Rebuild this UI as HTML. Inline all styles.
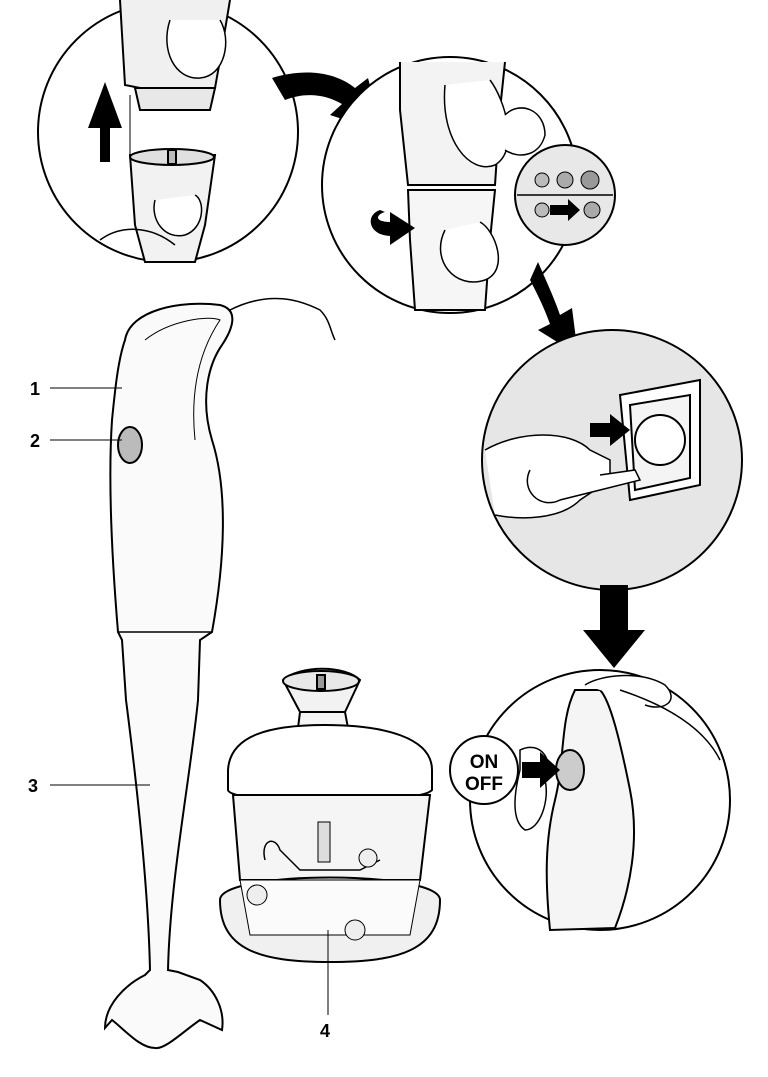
<!DOCTYPE html>
<html><head><meta charset="utf-8"><style>
html,body{margin:0;padding:0;background:#fff;}
svg{display:block;}
text{font-family:"Liberation Sans",sans-serif;font-weight:bold;}
</style></head><body>
<svg width="768" height="1077" viewBox="0 0 768 1077" xmlns="http://www.w3.org/2000/svg">
<g stroke="#000" stroke-width="2" fill="#fff">
<circle cx="168" cy="132" r="130"/>
<path d="M120 0 L125 85 L140 88 L215 88 L220 60 L230 0" fill="#f0f0f0"/>
<path d="M135 88 L215 88 L210 110 L140 110 Z" fill="#e8e8e8"/>
<path d="M130 155 L215 155 L205 225 L195 262 L145 262 L135 225 Z" fill="#f2f2f2"/>
<ellipse cx="172" cy="157" rx="42" ry="8" fill="#e0e0e0"/>
<rect x="168" y="150" width="8" height="14" fill="#bbb"/>
<path d="M170 20 C160 50 175 80 200 78 C225 76 232 40 220 20" fill="#fff" stroke-width="1.5"/>
<path d="M155 200 C150 220 165 240 185 235 C205 228 205 200 195 195" fill="#fff" stroke-width="1.5"/>
<path d="M100 240 C120 225 150 225 175 245" fill="none" stroke-width="1.5"/>
<path d="M100 162 L110 162 L110 128 L122 128 L105 82 L88 128 L100 128 Z" fill="#000" stroke="none"/>
<line x1="130" y1="95" x2="130" y2="160" stroke-width="1"/>
<path d="M272 78 C305 68 335 72 355 88 L368 78 L382 132 L330 115 L342 104 C325 94 305 92 285 100 Z" fill="#000" stroke="none"/>
<circle cx="450" cy="185" r="128"/>
<path d="M400 62 L400 110 L408 185 L495 185 L500 110 L505 62" fill="#f3f3f3"/>
<path d="M408 190 L495 190 L490 240 L485 310 L415 310 L410 240 Z" fill="#f6f6f6"/>
<path d="M445 85 C440 140 470 175 495 165 C520 150 505 100 490 80" fill="#fff" stroke-width="1.5"/>
<path d="M445 230 C430 260 455 290 485 280 C510 270 495 230 480 222" fill="#fff" stroke-width="1.5"/>
<path d="M505 115 C520 100 545 110 545 135 C540 155 520 160 505 150" fill="#fff" stroke-width="1.5"/>
<path d="M380 210 C365 215 368 235 390 236 L390 245 L415 228 L390 212 L390 222 C375 222 375 215 385 212 Z" fill="#000" stroke="none"/>
<circle cx="565" cy="195" r="50" fill="#e8e8e8"/>
<line x1="517" y1="195" x2="613" y2="195" stroke-width="1.5"/>
<circle cx="542" cy="180" r="7" fill="#bbb" stroke-width="1"/>
<circle cx="565" cy="180" r="8" fill="#aaa" stroke-width="1"/>
<circle cx="590" cy="180" r="9" fill="#999" stroke-width="1"/>
<circle cx="542" cy="210" r="7" fill="#bbb" stroke-width="1"/>
<circle cx="592" cy="210" r="8" fill="#aaa" stroke-width="1"/>
<path d="M550 205 L568 205 L568 199 L580 210 L568 221 L568 215 L550 215 Z" fill="#000" stroke="none"/>
<path d="M538 262 C548 285 555 300 560 315 L572 308 L578 355 L538 330 L550 324 C545 310 538 295 530 280 Z" fill="#000" stroke="none"/>
<circle cx="612" cy="460" r="130" fill="#e6e6e6"/>
<path d="M620 395 L700 380 L700 485 L630 500 Z" fill="#fff"/>
<path d="M630 405 L690 395 L690 478 L635 490 Z" fill="#f4f4f4"/>
<circle cx="660" cy="440" r="25" fill="#fff"/>
<path d="M485 450 C520 430 570 430 590 450 L610 460 L610 480 L580 500 C560 520 520 520 495 515" fill="#fff" stroke-width="1.5"/>
<path d="M530 470 C520 490 540 510 560 500 L600 490 L640 480 L635 470 L600 475" fill="#fff" stroke-width="1.5"/>
<path d="M590 423 L610 423 L610 414 L630 430 L610 446 L610 437 L590 437 Z" fill="#000" stroke="none"/>
<path d="M600 585 L628 585 L628 630 L645 630 L614 668 L583 630 L600 630 Z" fill="#000" stroke="none"/>
<circle cx="600" cy="800" r="130"/>
<path d="M575 690 C560 720 565 760 555 800 C545 840 545 880 550 930 L615 928 C630 890 640 840 630 790 C620 740 610 700 600 690 Z" fill="#f5f5f5"/>
<path d="M585 685 C600 675 640 670 665 685 C680 700 665 712 645 705" fill="#fff" stroke-width="1.5"/>
<path d="M620 690 C650 700 700 720 720 760" fill="none" stroke-width="1.5"/>
<ellipse cx="570" cy="770" rx="14" ry="20" fill="#ccc"/>
<path d="M520 750 C540 740 555 760 545 780 C550 800 540 830 525 830 C510 820 515 790 520 770 Z" fill="#fff" stroke-width="1.5"/>
<circle cx="484" cy="770" r="34" fill="#fff"/>
<path d="M522 762 L540 762 L540 752 L560 770 L540 788 L540 778 L522 778 Z" fill="#000" stroke="none"/>
<path d="M230 310 C270 290 300 300 320 310 C330 320 330 330 335 340" fill="none" stroke-width="1.5"/>
<path d="M125 340 C130 310 180 300 220 305 C240 310 232 330 222 345 C208 365 200 400 212 440 C228 490 225 560 212 632 L200 640 L198 700 C190 780 170 880 168 970 L178 972 L200 980 C215 990 225 1010 222 1030 L200 1020 C185 1030 165 1050 155 1048 C140 1048 125 1030 112 1020 L105 1028 C105 1005 125 985 145 975 L150 970 C148 880 135 770 126 700 L122 640 L118 632 C112 560 108 480 112 420 C115 390 118 360 125 340 Z" fill="#fafafa"/>
<path d="M118 632 L212 632" fill="none" stroke-width="1.5"/>
<path d="M145 340 C170 320 210 315 220 320 C200 350 190 390 195 440" fill="none" stroke-width="1"/>
<ellipse cx="130" cy="445" rx="12" ry="18" fill="#bbb"/>
<path d="M283 680 C300 665 345 665 360 680 L345 712 L300 712 Z" fill="#f2f2f2"/>
<ellipse cx="321" cy="681" rx="38" ry="10" fill="#e8e8e8"/>
<rect x="317" y="675" width="8" height="14" fill="#999"/>
<path d="M300 712 L345 712 L348 728 L298 728 Z" fill="#f5f5f5"/>
<path d="M228 770 C230 735 270 725 325 725 C385 725 432 738 432 770 L432 790 C420 805 230 805 228 790 Z" fill="#fff"/>
<path d="M233 795 L430 795 L420 880 L240 880 Z" fill="#f5f5f5"/>
<path d="M220 900 C220 870 440 870 440 900 C440 950 400 962 330 962 C260 962 220 950 220 900 Z" fill="#f0f0f0"/>
<path d="M240 880 L420 880 L410 935 L250 935 Z" fill="#fbfbfb" stroke-width="1"/>
<rect x="318" y="822" width="12" height="40" fill="#ddd" stroke-width="1"/>
<path d="M265 860 C260 840 275 835 280 850 L300 870 L360 870 L380 860" fill="none" stroke-width="1.5"/>
<circle cx="257" cy="895" r="10" fill="#eee" stroke-width="1"/>
<circle cx="355" cy="930" r="10" fill="#eee" stroke-width="1"/>
<circle cx="368" cy="858" r="9" fill="#eee" stroke-width="1"/>
<line x1="50" y1="388" x2="122" y2="388" stroke-width="1"/>
<line x1="50" y1="440" x2="122" y2="440" stroke-width="1"/>
<line x1="50" y1="785" x2="150" y2="785" stroke-width="1"/>
<line x1="328" y1="930" x2="328" y2="1015" stroke-width="1"/>
</g>
<text x="30" y="395" font-size="18">1</text>
<text x="30" y="447" font-size="18">2</text>
<text x="28" y="792" font-size="18">3</text>
<text x="320" y="1037" font-size="18">4</text>
<text x="484" y="768" font-size="19" text-anchor="middle">ON</text>
<text x="484" y="790" font-size="19" text-anchor="middle">OFF</text>
</svg>
</body></html>
